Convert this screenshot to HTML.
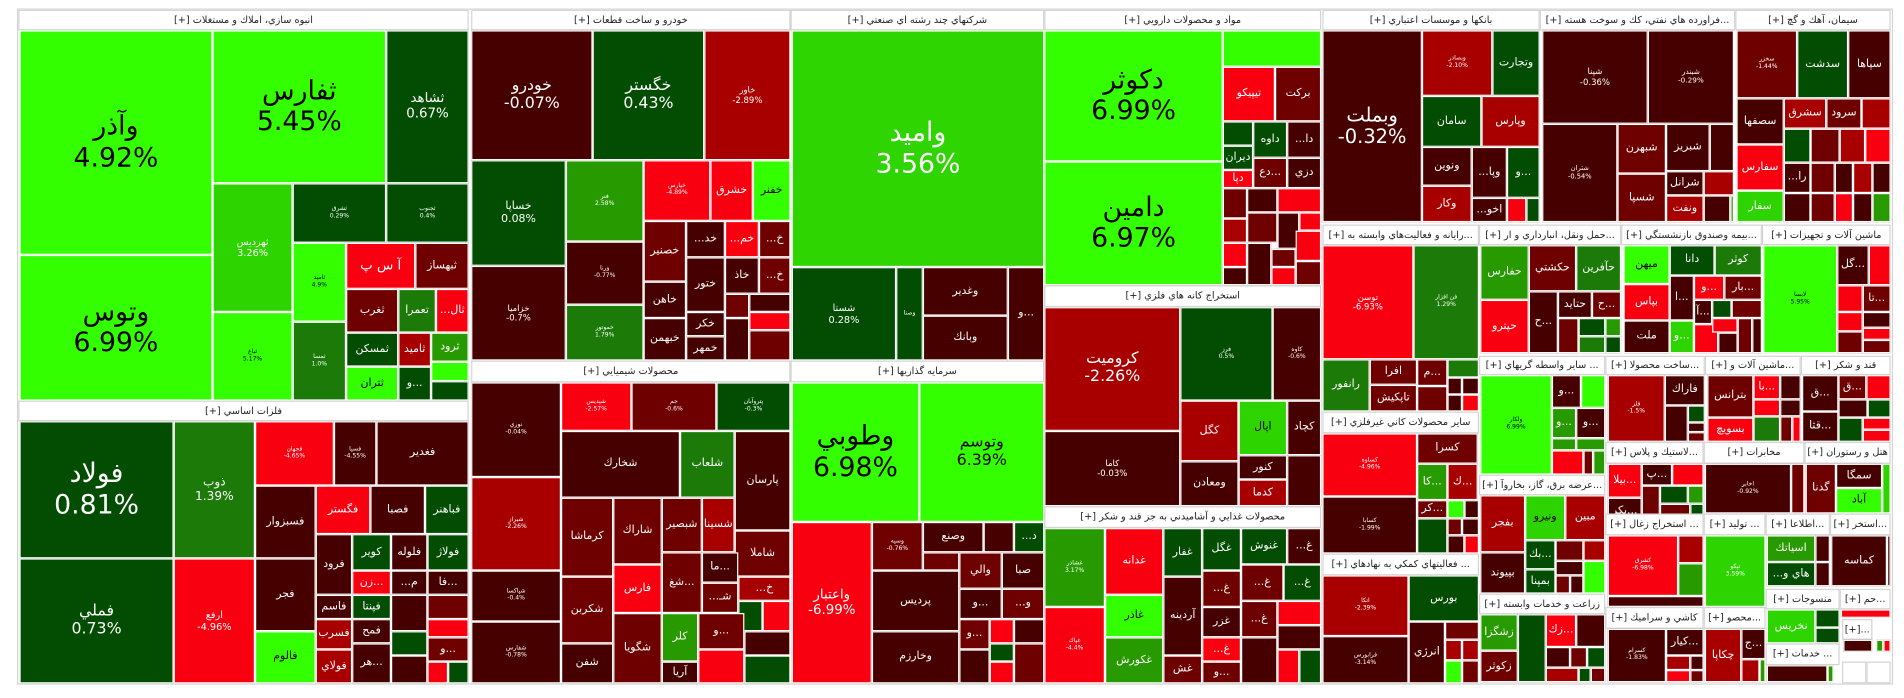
<!DOCTYPE html>
<html><head><meta charset="utf-8">
<style>
html,body{margin:0;padding:0;background:#fff;overflow:hidden}
#w{position:relative;width:1568px;height:575px;transform:scale(1.21429,1.21391);transform-origin:0 0;font-family:"DejaVu Sans","Liberation Sans",sans-serif}
.c{position:absolute;box-sizing:border-box;border:1px solid #fff;display:flex;align-items:center;justify-content:center;text-align:center;color:#fff;overflow:hidden;white-space:nowrap;line-height:1.15;font-size:9px}
.h{background:#fff;color:#222;border:1px solid #d4d4d4;font-size:8px;direction:rtl}
.G{background:#33ff00;color:#000}.g2{background:#2dd400}.g3{background:#279a00}.g4{background:#1c7a08}.dg{background:#034d03}
.dm{background:#470000}.mr{background:#6e0000}.r{background:#a80000}.R{background:#f80010}
.b{font-size:22px}.m{font-size:13px}.s{font-size:5px}
</style></head><body><div id="w">
<div style="position:absolute;left:14px;top:7px;width:1545px;height:557px;border:1px solid #d4d4d4;box-sizing:border-box"></div>
<!-- A -->
<div class="c h" style="left:15px;top:8px;width:371px;height:17px">انبوه سازي، املاك و مستغلات [+]</div>
<div class="c G b" style="left:16px;top:25px;width:159px;height:185px">وآذر<br>4.92%</div>
<div class="c G b" style="left:16px;top:210px;width:159px;height:120px">وتوس<br>6.99%</div>
<div class="c G b" style="left:175px;top:25px;width:143px;height:126px">ثفارس<br>5.45%</div>
<div class="c dg" style="left:318px;top:25px;width:68px;height:126px;font-size:11px">ثشاهد<br>0.67%</div>
<div class="c g2" style="left:175px;top:151px;width:66px;height:106px;font-size:8px">ثهرديس<br>3.26%</div>
<div class="c G s" style="left:175px;top:257px;width:66px;height:73px">ثباغ<br>5.17%</div>
<div class="c dg s" style="left:241px;top:151px;width:77px;height:49px">ثشرق<br>0.29%</div>
<div class="c dg s" style="left:318px;top:151px;width:68px;height:49px">ثجنوب<br>0.4%</div>
<div class="c G s" style="left:241px;top:200px;width:44px;height:65px">ثامید<br>4.9%</div>
<div class="c g4 s" style="left:241px;top:265px;width:44px;height:65px">ثمسا<br>1.0%</div>
<div class="c R" style="left:285px;top:200px;width:57px;height:38px;font-size:11px">آ س پ</div>
<div class="c mr" style="left:342px;top:200px;width:44px;height:38px">ثبهساز</div>
<div class="c mr" style="left:285px;top:238px;width:43px;height:36px">ثغرب</div>
<div class="c g4" style="left:328px;top:238px;width:31px;height:36px">تعمرا</div>
<div class="c R" style="left:359px;top:238px;width:27px;height:36px">...ثال</div>
<div class="c dg" style="left:285px;top:274px;width:43px;height:28px">ثمسكن</div>
<div class="c r" style="left:328px;top:274px;width:27px;height:28px">ثامید</div>
<div class="c g3" style="left:355px;top:274px;width:31px;height:24px">ثرود</div>
<div class="c G" style="left:355px;top:298px;width:31px;height:16px"></div>
<div class="c G" style="left:285px;top:302px;width:43px;height:28px">ثتران</div>
<div class="c dg" style="left:328px;top:302px;width:27px;height:28px">و...</div>
<div class="c dg" style="left:355px;top:314px;width:31px;height:16px"></div>
<!-- B -->
<div class="c h" style="left:15px;top:330px;width:371px;height:17px">فلزات اساسي [+]</div>
<div class="c dg b" style="left:16px;top:347px;width:127px;height:113px">فولاد<br>0.81%</div>
<div class="c dg m" style="left:16px;top:460px;width:127px;height:103px">فملي<br>0.73%</div>
<div class="c g4" style="left:143px;top:347px;width:67px;height:113px;font-size:10px">ذوب<br>1.39%</div>
<div class="c R" style="left:143px;top:460px;width:67px;height:103px;font-size:8px">ارفع<br>-4.96%</div>
<div class="c R s" style="left:210px;top:347px;width:65px;height:53px">فجهان<br>-4.65%</div>
<div class="c dm s" style="left:275px;top:347px;width:35px;height:53px">فسپا<br>-4.55%</div>
<div class="c dm" style="left:310px;top:347px;width:76px;height:53px">فغدير</div>
<div class="c dm" style="left:210px;top:400px;width:50px;height:60px">فسبزوار</div>
<div class="c R" style="left:260px;top:400px;width:45px;height:40px">فگستر</div>
<div class="c dm" style="left:305px;top:400px;width:45px;height:40px">فصبا</div>
<div class="c dg" style="left:350px;top:400px;width:36px;height:40px">فباهنر</div>
<div class="c dm" style="left:260px;top:440px;width:30px;height:50px">فرود</div>
<div class="c dg" style="left:290px;top:440px;width:32px;height:30px">كوير</div>
<div class="c dm" style="left:322px;top:440px;width:30px;height:30px">فلوله</div>
<div class="c dg" style="left:352px;top:440px;width:34px;height:30px">فولاژ</div>
<div class="c dm" style="left:210px;top:460px;width:50px;height:60px">فجر</div>
<div class="c R" style="left:290px;top:470px;width:32px;height:20px">زن...</div>
<div class="c dm" style="left:322px;top:470px;width:30px;height:20px">...م</div>
<div class="c dm" style="left:352px;top:470px;width:34px;height:20px">فا...</div>
<div class="c G" style="left:210px;top:520px;width:50px;height:43px">فالوم</div>
<div class="c dm" style="left:260px;top:490px;width:30px;height:20px">فاسم</div>
<div class="c dg" style="left:290px;top:490px;width:32px;height:20px">فپنتا</div>
<div class="c r" style="left:260px;top:510px;width:30px;height:25px">فسرب</div>
<div class="c dm" style="left:290px;top:510px;width:32px;height:20px">فمح</div>
<div class="c r" style="left:260px;top:535px;width:30px;height:28px">فولاي</div>
<div class="c dm" style="left:290px;top:530px;width:32px;height:33px">هر...</div>
<div class="c dm" style="left:322px;top:490px;width:30px;height:30px"></div>
<div class="c mr" style="left:352px;top:490px;width:34px;height:20px"></div>
<div class="c R" style="left:352px;top:510px;width:34px;height:15px"></div>
<div class="c dg" style="left:322px;top:520px;width:30px;height:20px"></div>
<div class="c mr" style="left:352px;top:525px;width:34px;height:20px">و...</div>
<div class="c dm" style="left:322px;top:540px;width:30px;height:23px"></div>
<div class="c R" style="left:352px;top:545px;width:17px;height:18px"></div>
<div class="c dg" style="left:369px;top:545px;width:17px;height:18px"></div>
<!-- C -->
<div class="c h" style="left:388px;top:8px;width:263px;height:17px">خودرو و ساخت قطعات [+]</div>
<div class="c dm m" style="left:388px;top:25px;width:100px;height:107px">خودرو<br>-0.07%</div>
<div class="c dg m" style="left:488px;top:25px;width:92px;height:107px">خگستر<br>0.43%</div>
<div class="c r" style="left:580px;top:25px;width:71px;height:107px;font-size:7px">خاور<br>-2.89%</div>
<div class="c dg" style="left:388px;top:132px;width:78px;height:87px">خساپا<br>0.08%</div>
<div class="c dm" style="left:388px;top:219px;width:78px;height:78px;font-size:7px">خزامیا<br>-0.7%</div>
<div class="c g3 s" style="left:466px;top:132px;width:64px;height:67px">فنر<br>2.58%</div>
<div class="c dm s" style="left:466px;top:199px;width:64px;height:52px">ورنا<br>-0.77%</div>
<div class="c g4 s" style="left:466px;top:251px;width:64px;height:46px">خموتور<br>1.79%</div>
<div class="c R s" style="left:530px;top:132px;width:55px;height:50px">خپارس<br>-4.89%</div>
<div class="c R" style="left:585px;top:132px;width:35px;height:50px">خشرق</div>
<div class="c G" style="left:620px;top:132px;width:31px;height:50px">خفنر</div>
<div class="c mr" style="left:530px;top:182px;width:35px;height:50px">خصنير</div>
<div class="c dm" style="left:530px;top:232px;width:35px;height:30px">خاهن</div>
<div class="c dm" style="left:530px;top:262px;width:35px;height:35px">خبهمن</div>
<div class="c dm" style="left:565px;top:182px;width:32px;height:30px">...خد</div>
<div class="c R" style="left:597px;top:182px;width:28px;height:30px">...خم</div>
<div class="c mr" style="left:625px;top:182px;width:26px;height:30px">...خ</div>
<div class="c dm" style="left:565px;top:212px;width:32px;height:45px">ختور</div>
<div class="c dm" style="left:597px;top:212px;width:28px;height:30px">خاذ</div>
<div class="c mr" style="left:625px;top:212px;width:26px;height:30px">...خ</div>
<div class="c dm" style="left:565px;top:257px;width:32px;height:20px">خكر</div>
<div class="c dm" style="left:565px;top:277px;width:32px;height:20px">خمهر</div>
<div class="c mr" style="left:597px;top:242px;width:20px;height:20px"></div>
<div class="c dm" style="left:617px;top:242px;width:34px;height:15px"></div>
<div class="c R" style="left:617px;top:257px;width:34px;height:15px"></div>
<div class="c dm" style="left:597px;top:262px;width:20px;height:35px"></div>
<div class="c mr" style="left:617px;top:272px;width:34px;height:25px"></div>
<!-- D -->
<div class="c h" style="left:388px;top:297px;width:263px;height:18px">محصولات شيميايي [+]</div>
<div class="c dm s" style="left:388px;top:315px;width:74px;height:78px">نوري<br>-0.04%</div>
<div class="c R s" style="left:462px;top:315px;width:58px;height:40px">شپديس<br>-2.57%</div>
<div class="c mr s" style="left:520px;top:315px;width:70px;height:40px">جم<br>-0.6%</div>
<div class="c dg s" style="left:590px;top:315px;width:61px;height:40px">پتروآبان<br>-0.3%</div>
<div class="c r s" style="left:388px;top:393px;width:74px;height:77px">شيراز<br>-2.26%</div>
<div class="c dm s" style="left:388px;top:470px;width:74px;height:42px">شپاكسا<br>-0.4%</div>
<div class="c dm s" style="left:388px;top:512px;width:74px;height:51px">شفارس<br>-0.78%</div>
<div class="c dm" style="left:462px;top:355px;width:98px;height:55px">شخارك</div>
<div class="c g4" style="left:560px;top:355px;width:45px;height:55px">شلعاب</div>
<div class="c dm" style="left:605px;top:355px;width:46px;height:82px">پارسان</div>
<div class="c mr" style="left:462px;top:410px;width:43px;height:65px">كرماشا</div>
<div class="c mr" style="left:505px;top:410px;width:40px;height:55px">شاراك</div>
<div class="c mr" style="left:545px;top:410px;width:33px;height:45px">شبصير</div>
<div class="c r" style="left:578px;top:410px;width:27px;height:45px">شسينا</div>
<div class="c mr" style="left:605px;top:437px;width:46px;height:38px">شاملا</div>
<div class="c mr" style="left:462px;top:475px;width:43px;height:55px">شكربن</div>
<div class="c R" style="left:505px;top:465px;width:40px;height:40px">فارس</div>
<div class="c mr" style="left:505px;top:505px;width:40px;height:58px">شگويا</div>
<div class="c dm" style="left:462px;top:530px;width:43px;height:33px">شفن</div>
<div class="c mr" style="left:545px;top:455px;width:33px;height:50px">شغ...</div>
<div class="c g3" style="left:545px;top:505px;width:30px;height:40px">كلر</div>
<div class="c dm" style="left:545px;top:545px;width:30px;height:18px">آريا</div>
<div class="c dm" style="left:578px;top:455px;width:30px;height:25px">ما...</div>
<div class="c r" style="left:608px;top:475px;width:43px;height:20px">...خ</div>
<div class="c mr" style="left:578px;top:480px;width:30px;height:25px">...شـ</div>
<div class="c dg" style="left:608px;top:495px;width:20px;height:25px"></div>
<div class="c R" style="left:628px;top:495px;width:23px;height:25px"></div>
<div class="c mr" style="left:575px;top:505px;width:38px;height:30px">و...</div>
<div class="c dm" style="left:613px;top:520px;width:38px;height:20px"></div>
<div class="c R" style="left:575px;top:535px;width:38px;height:28px"></div>
<div class="c dg" style="left:613px;top:540px;width:38px;height:23px"></div>
<!-- E -->
<div class="c h" style="left:651px;top:8px;width:209px;height:17px">شركتهاي چند رشته اي صنعتي [+]</div>
<div class="c b" style="left:652px;top:25px;width:208px;height:195px;background:#2ed500">وامید<br>3.56%</div>
<div class="c dg" style="left:652px;top:220px;width:86px;height:77px;font-size:8px">شستا<br>0.28%</div>
<div class="c dg s" style="left:738px;top:220px;width:22px;height:77px">وصنا</div>
<div class="c dm" style="left:760px;top:220px;width:70px;height:40px">وغدير</div>
<div class="c dm" style="left:760px;top:260px;width:70px;height:37px">وبانك</div>
<div class="c dm" style="left:830px;top:220px;width:30px;height:77px">و...</div>
<!-- F -->
<div class="c h" style="left:651px;top:297px;width:209px;height:18px">سرمايه گذاريها [+]</div>
<div class="c G b" style="left:652px;top:315px;width:105px;height:115px">وطوبي<br>6.98%</div>
<div class="c G m" style="left:757px;top:315px;width:103px;height:115px">وتوسم<br>6.39%</div>
<div class="c R" style="left:652px;top:430px;width:66px;height:133px;font-size:11px">واعتبار<br>-6.99%</div>
<div class="c mr s" style="left:718px;top:430px;width:42px;height:40px">وسپه<br>-0.76%</div>
<div class="c dm" style="left:760px;top:430px;width:50px;height:25px">وصنع</div>
<div class="c dm" style="left:810px;top:430px;width:25px;height:25px"></div>
<div class="c dg" style="left:835px;top:430px;width:25px;height:25px">...د</div>
<div class="c dm" style="left:718px;top:470px;width:72px;height:50px">پرديس</div>
<div class="c dm" style="left:718px;top:520px;width:72px;height:43px">وخارزم</div>
<div class="c mr" style="left:760px;top:455px;width:30px;height:15px"></div>
<div class="c mr" style="left:790px;top:455px;width:35px;height:30px">والي</div>
<div class="c dm" style="left:825px;top:455px;width:35px;height:30px">صبا</div>
<div class="c dm" style="left:790px;top:485px;width:35px;height:25px">و...</div>
<div class="c mr" style="left:825px;top:485px;width:35px;height:25px">...و</div>
<div class="c mr" style="left:790px;top:510px;width:25px;height:25px">و...</div>
<div class="c R" style="left:815px;top:510px;width:20px;height:20px"></div>
<div class="c dm" style="left:835px;top:510px;width:25px;height:20px"></div>
<div class="c dg" style="left:815px;top:530px;width:20px;height:15px"></div>
<div class="c mr" style="left:835px;top:530px;width:25px;height:33px"></div>
<div class="c dm" style="left:790px;top:535px;width:25px;height:28px"></div>
<div class="c R" style="left:815px;top:545px;width:20px;height:18px"></div>
<!-- G -->
<div class="c h" style="left:860px;top:8px;width:228px;height:17px">مواد و محصولات دارويي [+]</div>
<div class="c G b" style="left:860px;top:25px;width:147px;height:108px">دكوثر<br>6.99%</div>
<div class="c G b" style="left:860px;top:133px;width:147px;height:102px">دامین<br>6.97%</div>
<div class="c G" style="left:1007px;top:25px;width:81px;height:30px"></div>
<div class="c R" style="left:1007px;top:55px;width:43px;height:45px">تيپيكو</div>
<div class="c mr" style="left:1050px;top:55px;width:38px;height:45px">بركت</div>
<div class="c dg" style="left:1007px;top:100px;width:25px;height:20px"></div>
<div class="c dg" style="left:1032px;top:100px;width:28px;height:30px">داوه</div>
<div class="c dm" style="left:1060px;top:100px;width:28px;height:30px">...دا</div>
<div class="c dg" style="left:1007px;top:120px;width:25px;height:20px">ديران</div>
<div class="c R" style="left:1007px;top:140px;width:25px;height:15px">دپا</div>
<div class="c mr" style="left:1032px;top:130px;width:28px;height:25px">دع...</div>
<div class="c dm" style="left:1060px;top:130px;width:28px;height:25px">دزي</div>
<div class="c mr" style="left:1007px;top:155px;width:20px;height:25px"></div>
<div class="c dm" style="left:1027px;top:155px;width:25px;height:20px"></div>
<div class="c R" style="left:1052px;top:155px;width:36px;height:20px"></div>
<div class="c r" style="left:1007px;top:180px;width:20px;height:20px"></div>
<div class="c mr" style="left:1027px;top:175px;width:25px;height:25px"></div>
<div class="c dm" style="left:1052px;top:175px;width:18px;height:30px"></div>
<div class="c R" style="left:1070px;top:175px;width:18px;height:15px"></div>
<div class="c R" style="left:1007px;top:200px;width:20px;height:20px"></div>
<div class="c dm" style="left:1027px;top:200px;width:20px;height:35px"></div>
<div class="c mr" style="left:1047px;top:205px;width:20px;height:15px"></div>
<div class="c R" style="left:1067px;top:190px;width:21px;height:25px"></div>
<div class="c R" style="left:1047px;top:220px;width:20px;height:15px"></div>
<div class="c dm" style="left:1007px;top:220px;width:20px;height:15px"></div>
<div class="c mr" style="left:1067px;top:215px;width:21px;height:20px"></div>
<!-- H -->
<div class="c h" style="left:860px;top:235px;width:228px;height:18px">استخراج كانه هاي فلزي [+]</div>
<div class="c r m" style="left:860px;top:253px;width:112px;height:102px">كروميت<br>-2.26%</div>
<div class="c dm" style="left:860px;top:355px;width:112px;height:62px;font-size:7px">كاما<br>-0.03%</div>
<div class="c dg s" style="left:972px;top:253px;width:76px;height:77px">فرز<br>0.5%</div>
<div class="c dm s" style="left:1048px;top:253px;width:40px;height:77px">كاوه<br>-0.6%</div>
<div class="c r" style="left:972px;top:330px;width:48px;height:50px">كگل</div>
<div class="c g2" style="left:1020px;top:330px;width:40px;height:45px;color:#000">اپال</div>
<div class="c dm" style="left:1060px;top:330px;width:28px;height:45px">كچاد</div>
<div class="c dm" style="left:972px;top:380px;width:48px;height:37px">ومعادن</div>
<div class="c dm" style="left:1020px;top:375px;width:40px;height:20px">كنور</div>
<div class="c r" style="left:1020px;top:395px;width:40px;height:22px">كدما</div>
<div class="c dm" style="left:1060px;top:375px;width:28px;height:42px"></div>
<!-- I -->
<div class="c h" style="left:860px;top:417px;width:228px;height:18px">محصولات غذايي و آشاميدني به جز قند و شكر [+]</div>
<div class="c g3 s" style="left:860px;top:435px;width:50px;height:65px">غشاذر<br>3.17%</div>
<div class="c R s" style="left:860px;top:500px;width:50px;height:63px">غپاك<br>-4.4%</div>
<div class="c R" style="left:910px;top:435px;width:48px;height:55px">غدانه</div>
<div class="c G" style="left:910px;top:490px;width:48px;height:35px">غاذر</div>
<div class="c g3" style="left:910px;top:525px;width:48px;height:38px">غكورش</div>
<div class="c dg" style="left:958px;top:435px;width:32px;height:40px">غفار</div>
<div class="c dm" style="left:958px;top:475px;width:32px;height:65px">آردينه</div>
<div class="c mr" style="left:958px;top:540px;width:32px;height:23px">غش</div>
<div class="c dg" style="left:990px;top:435px;width:32px;height:35px">غگل</div>
<div class="c dg" style="left:1022px;top:435px;width:38px;height:30px">غنوش</div>
<div class="c dm" style="left:1060px;top:435px;width:28px;height:30px">...غ</div>
<div class="c mr" style="left:990px;top:470px;width:32px;height:30px">...غ</div>
<div class="c mr" style="left:1022px;top:465px;width:35px;height:30px">...غ</div>
<div class="c dg" style="left:1057px;top:465px;width:31px;height:30px">...غ</div>
<div class="c dm" style="left:990px;top:500px;width:32px;height:25px">غزر</div>
<div class="c mr" style="left:1022px;top:495px;width:30px;height:30px">...غ</div>
<div class="c R" style="left:1052px;top:495px;width:36px;height:20px"></div>
<div class="c dm" style="left:1052px;top:515px;width:36px;height:20px"></div>
<div class="c R" style="left:990px;top:525px;width:32px;height:20px">...غ</div>
<div class="c mr" style="left:990px;top:545px;width:32px;height:18px">و...</div>
<div class="c dm" style="left:1022px;top:525px;width:30px;height:38px"></div>
<div class="c R" style="left:1052px;top:535px;width:18px;height:28px"></div>
<div class="c dg" style="left:1070px;top:535px;width:18px;height:28px"></div>
<!-- Banks -->
<div class="c h" style="left:1089px;top:8px;width:179px;height:17px">بانكها و موسسات اعتباري [+]</div>
<div class="c dm" style="left:1089px;top:25px;width:82px;height:158px;font-size:16px">وبملت<br>-0.32%</div>
<div class="c r s" style="left:1171px;top:25px;width:58px;height:54px">وبصادر<br>-2.10%</div>
<div class="c dg" style="left:1229px;top:25px;width:39px;height:54px">وتجارت</div>
<div class="c dg" style="left:1171px;top:79px;width:49px;height:42px">سامان</div>
<div class="c r" style="left:1220px;top:79px;width:48px;height:42px">وپارس</div>
<div class="c dm" style="left:1171px;top:121px;width:41px;height:32px">ونوين</div>
<div class="c dm" style="left:1212px;top:121px;width:29px;height:42px">...وپا</div>
<div class="c dg" style="left:1241px;top:121px;width:27px;height:42px">و...</div>
<div class="c r" style="left:1171px;top:153px;width:41px;height:30px">وكار</div>
<div class="c dm" style="left:1212px;top:163px;width:29px;height:20px">...اخو</div>
<div class="c R" style="left:1241px;top:163px;width:16px;height:20px"></div>
<div class="c dg" style="left:1257px;top:163px;width:11px;height:20px"></div>
<!-- Refinery -->
<div class="c h" style="left:1268px;top:8px;width:161px;height:17px">...فراورده هاي نفتي، كك و سوخت هسته [+]</div>
<div class="c dm" style="left:1270px;top:25px;width:87px;height:77px;font-size:7px">شپنا<br>-0.36%</div>
<div class="c dm" style="left:1357px;top:25px;width:71px;height:77px;font-size:6px">شبندر<br>-0.29%</div>
<div class="c dm" style="left:1270px;top:102px;width:62px;height:81px;font-size:5.5px">شتران<br>-0.54%</div>
<div class="c mr" style="left:1332px;top:102px;width:40px;height:41px">شبهرن</div>
<div class="c dm" style="left:1372px;top:102px;width:36px;height:39px">شبريز</div>
<div class="c dm" style="left:1408px;top:102px;width:20px;height:39px"></div>
<div class="c mr" style="left:1332px;top:143px;width:40px;height:40px">شسپا</div>
<div class="c dm" style="left:1372px;top:141px;width:31px;height:20px">شرانل</div>
<div class="c r" style="left:1372px;top:161px;width:31px;height:22px">ونفت</div>
<div class="c r" style="left:1403px;top:141px;width:25px;height:20px"></div>
<div class="c dm" style="left:1403px;top:161px;width:22px;height:22px"></div>
<div class="c g3" style="left:1425px;top:161px;width:3px;height:22px"></div>
<!-- Cement -->
<div class="c h" style="left:1429px;top:8px;width:128px;height:17px">سيمان، آهك و گچ [+]</div>
<div class="c mr s" style="left:1430px;top:25px;width:50px;height:56px">سخزر<br>-1.44%</div>
<div class="c dg" style="left:1480px;top:25px;width:42px;height:56px">سدشت</div>
<div class="c dm" style="left:1522px;top:25px;width:35px;height:56px">سپاها</div>
<div class="c dm" style="left:1430px;top:81px;width:39px;height:38px">سصفها</div>
<div class="c r" style="left:1469px;top:81px;width:35px;height:25px">سشرق</div>
<div class="c mr" style="left:1504px;top:81px;width:29px;height:25px">سرود</div>
<div class="c r" style="left:1533px;top:81px;width:24px;height:25px"></div>
<div class="c R" style="left:1430px;top:119px;width:39px;height:38px">سفارس</div>
<div class="c g2" style="left:1430px;top:157px;width:39px;height:26px">سفار</div>
<div class="c dg" style="left:1469px;top:106px;width:22px;height:28px"></div>
<div class="c mr" style="left:1491px;top:106px;width:24px;height:28px"></div>
<div class="c r" style="left:1515px;top:106px;width:21px;height:28px"></div>
<div class="c R" style="left:1536px;top:106px;width:21px;height:28px"></div>
<div class="c dm" style="left:1469px;top:134px;width:22px;height:25px">...را</div>
<div class="c mr" style="left:1491px;top:134px;width:20px;height:25px"></div>
<div class="c dm" style="left:1511px;top:134px;width:15px;height:25px"></div>
<div class="c r" style="left:1526px;top:134px;width:16px;height:25px"></div>
<div class="c dm" style="left:1542px;top:134px;width:15px;height:25px"></div>
<div class="c dm" style="left:1469px;top:159px;width:22px;height:24px"></div>
<div class="c mr" style="left:1491px;top:159px;width:20px;height:24px"></div>
<div class="c R" style="left:1511px;top:159px;width:15px;height:24px"></div>
<div class="c dm" style="left:1526px;top:159px;width:16px;height:24px"></div>
<div class="c g3" style="left:1542px;top:159px;width:15px;height:24px"></div>
<!-- Computer -->
<div class="c h" style="left:1089px;top:185px;width:129px;height:17px">...رايانه و فعاليت‌هاي وابسته به [+]</div>
<div class="c R" style="left:1089px;top:202px;width:75px;height:94px;font-size:7px">توسن<br>-6.93%</div>
<div class="c g4 s" style="left:1164px;top:202px;width:54px;height:94px">فن افزار<br>1.29%</div>
<div class="c g4" style="left:1089px;top:296px;width:39px;height:43px">رانفور</div>
<div class="c mr" style="left:1128px;top:296px;width:39px;height:21px">افرا</div>
<div class="c mr" style="left:1128px;top:317px;width:39px;height:22px">تاپكيش</div>
<div class="c mr" style="left:1167px;top:296px;width:25px;height:22px">م...</div>
<div class="c g4" style="left:1192px;top:296px;width:26px;height:15px"></div>
<div class="c dm" style="left:1192px;top:311px;width:12px;height:14px"></div>
<div class="c dm" style="left:1204px;top:311px;width:14px;height:14px"></div>
<div class="c mr" style="left:1167px;top:318px;width:25px;height:21px"></div>
<div class="c dm" style="left:1192px;top:325px;width:12px;height:14px"></div>
<div class="c R" style="left:1204px;top:325px;width:14px;height:14px"></div>
<!-- Non-metal -->
<div class="c h" style="left:1089px;top:339px;width:129px;height:18px">ساير محصولات كاني غيرفلزي [+]</div>
<div class="c R s" style="left:1089px;top:357px;width:78px;height:52px">كساوه<br>-4.96%</div>
<div class="c mr" style="left:1167px;top:357px;width:50px;height:25px">كسرا</div>
<div class="c g3" style="left:1167px;top:382px;width:25px;height:30px">كا...</div>
<div class="c r" style="left:1192px;top:382px;width:25px;height:30px">ك...</div>
<div class="c dm s" style="left:1089px;top:409px;width:78px;height:47px">كسابا<br>-1.99%</div>
<div class="c mr" style="left:1167px;top:412px;width:25px;height:15px">كر...</div>
<div class="c dg" style="left:1167px;top:427px;width:25px;height:29px"></div>
<div class="c G" style="left:1192px;top:412px;width:14px;height:15px"></div>
<div class="c dm" style="left:1206px;top:412px;width:12px;height:15px"></div>
<div class="c mr" style="left:1192px;top:427px;width:12px;height:14px"></div>
<div class="c dm" style="left:1204px;top:427px;width:14px;height:14px"></div>
<div class="c dm" style="left:1192px;top:441px;width:14px;height:15px"></div>
<div class="c R" style="left:1206px;top:441px;width:12px;height:15px"></div>
<!-- Support -->
<div class="c h" style="left:1089px;top:456px;width:129px;height:18px">... فعاليتهاي كمكي به نهادهاي [+]</div>
<div class="c r s" style="left:1089px;top:474px;width:71px;height:50px">اتكا<br>-2.39%</div>
<div class="c dg" style="left:1160px;top:474px;width:58px;height:38px">بورس</div>
<div class="c dm s" style="left:1089px;top:524px;width:71px;height:39px">فرابورس<br>-3.14%</div>
<div class="c dm" style="left:1160px;top:512px;width:30px;height:51px">انرژي</div>
<div class="c mr" style="left:1190px;top:512px;width:28px;height:15px"></div>
<div class="c r" style="left:1190px;top:527px;width:14px;height:17px"></div>
<div class="c r" style="left:1204px;top:527px;width:14px;height:17px"></div>
<div class="c G" style="left:1190px;top:544px;width:14px;height:19px"></div>
<div class="c mr" style="left:1204px;top:544px;width:14px;height:19px"></div>
<!-- Transport -->
<div class="c h" style="left:1218px;top:185px;width:117px;height:17px">...حمل ونقل، انبارداري و ار [+]</div>
<div class="c g3" style="left:1219px;top:202px;width:40px;height:45px">حفارس</div>
<div class="c mr" style="left:1259px;top:202px;width:39px;height:38px">حكشتي</div>
<div class="c g4" style="left:1298px;top:202px;width:37px;height:38px">حآفرين</div>
<div class="c R" style="left:1219px;top:247px;width:40px;height:44px">حپترو</div>
<div class="c dm" style="left:1259px;top:240px;width:24px;height:51px">ح...</div>
<div class="c dm" style="left:1283px;top:240px;width:28px;height:22px">حتايد</div>
<div class="c mr" style="left:1311px;top:240px;width:24px;height:22px">ح...</div>
<div class="c mr" style="left:1283px;top:262px;width:17px;height:29px"></div>
<div class="c dg" style="left:1300px;top:262px;width:22px;height:15px"></div>
<div class="c g3" style="left:1322px;top:262px;width:13px;height:15px"></div>
<div class="c g4" style="left:1300px;top:277px;width:22px;height:14px"></div>
<div class="c dg" style="left:1322px;top:277px;width:13px;height:14px"></div>
<!-- Insurance -->
<div class="c h" style="left:1335px;top:185px;width:116px;height:17px">...بيمه وصندوق بازنشستگي [+]</div>
<div class="c G" style="left:1337px;top:202px;width:38px;height:32px">ميهن</div>
<div class="c dg" style="left:1375px;top:202px;width:37px;height:25px">دانا</div>
<div class="c g4" style="left:1412px;top:202px;width:39px;height:25px">كوثر</div>
<div class="c R" style="left:1337px;top:234px;width:38px;height:30px">بپاس</div>
<div class="c dm" style="left:1337px;top:264px;width:38px;height:27px">ملت</div>
<div class="c dm" style="left:1375px;top:227px;width:20px;height:37px">ا...</div>
<div class="c R" style="left:1395px;top:227px;width:25px;height:20px">و...</div>
<div class="c mr" style="left:1420px;top:227px;width:31px;height:20px">بار...</div>
<div class="c dm" style="left:1395px;top:247px;width:15px;height:20px">آ...</div>
<div class="c dg" style="left:1410px;top:247px;width:16px;height:15px"></div>
<div class="c mr" style="left:1426px;top:247px;width:25px;height:15px"></div>
<div class="c g2" style="left:1375px;top:264px;width:20px;height:27px">و...</div>
<div class="c R" style="left:1395px;top:267px;width:20px;height:24px"></div>
<div class="c R" style="left:1410px;top:262px;width:21px;height:12px"></div>
<div class="c dm" style="left:1415px;top:274px;width:16px;height:17px"></div>
<div class="c mr" style="left:1431px;top:262px;width:12px;height:29px"></div>
<div class="c dm" style="left:1443px;top:262px;width:8px;height:29px"></div>
<!-- Machinery -->
<div class="c h" style="left:1451px;top:185px;width:106px;height:17px">ماشين آلات و تجهيزات [+]</div>
<div class="c G s" style="left:1452px;top:202px;width:61px;height:89px">لابسا<br>5.95%</div>
<div class="c dm" style="left:1513px;top:202px;width:26px;height:33px">گل...</div>
<div class="c R" style="left:1539px;top:202px;width:18px;height:33px"></div>
<div class="c R" style="left:1513px;top:235px;width:21px;height:22px"></div>
<div class="c mr" style="left:1534px;top:235px;width:23px;height:22px">تا...</div>
<div class="c R" style="left:1513px;top:257px;width:21px;height:16px"></div>
<div class="c dm" style="left:1534px;top:257px;width:23px;height:13px"></div>
<div class="c mr" style="left:1513px;top:273px;width:21px;height:18px"></div>
<div class="c R" style="left:1534px;top:270px;width:23px;height:10px"></div>
<div class="c mr" style="left:1534px;top:280px;width:23px;height:11px"></div>
<!-- Other fin -->
<div class="c h" style="left:1218px;top:293px;width:104px;height:16px">... ساير واسطه گريهاي [+]</div>
<div class="c G s" style="left:1219px;top:309px;width:59px;height:82px">ولكار<br>6.99%</div>
<div class="c dm" style="left:1278px;top:309px;width:24px;height:27px">و...</div>
<div class="c G" style="left:1302px;top:309px;width:20px;height:27px"></div>
<div class="c g3" style="left:1278px;top:336px;width:20px;height:25px">و...</div>
<div class="c dm" style="left:1298px;top:336px;width:24px;height:25px">و...</div>
<div class="c g3" style="left:1278px;top:361px;width:20px;height:10px"></div>
<div class="c g3" style="left:1298px;top:361px;width:24px;height:10px"></div>
<div class="c R" style="left:1278px;top:371px;width:26px;height:20px"></div>
<div class="c mr" style="left:1304px;top:371px;width:8px;height:20px"></div>
<div class="c g3" style="left:1312px;top:371px;width:10px;height:20px"></div>
<!-- Electricity -->
<div class="c h" style="left:1218px;top:391px;width:104px;height:17px">...عرضه برق، گاز، بخاروآ [+]</div>
<div class="c r" style="left:1219px;top:408px;width:37px;height:47px">بفجر</div>
<div class="c g2" style="left:1256px;top:408px;width:33px;height:37px;color:#000">ونيرو</div>
<div class="c r" style="left:1289px;top:408px;width:33px;height:37px">مبين</div>
<div class="c dm" style="left:1219px;top:455px;width:37px;height:34px">بپيوند</div>
<div class="c dg" style="left:1256px;top:445px;width:25px;height:24px">بك...</div>
<div class="c dg" style="left:1256px;top:469px;width:25px;height:20px">بمپنا</div>
<div class="c mr" style="left:1281px;top:445px;width:23px;height:17px"></div>
<div class="c r" style="left:1304px;top:445px;width:18px;height:17px"></div>
<div class="c dm" style="left:1281px;top:462px;width:23px;height:12px"></div>
<div class="c mr" style="left:1281px;top:474px;width:12px;height:15px"></div>
<div class="c dm" style="left:1293px;top:474px;width:11px;height:15px"></div>
<div class="c G" style="left:1304px;top:462px;width:18px;height:27px"></div>
<!-- Agri -->
<div class="c h" style="left:1218px;top:489px;width:104px;height:17px">زراعت و خدمات وابسته [+]</div>
<div class="c g3" style="left:1219px;top:506px;width:31px;height:30px">زشگزا</div>
<div class="c mr" style="left:1219px;top:536px;width:31px;height:26px">زكوثر</div>
<div class="c dg" style="left:1250px;top:506px;width:23px;height:56px"></div>
<div class="c R" style="left:1273px;top:506px;width:25px;height:27px">زك...</div>
<div class="c dm" style="left:1298px;top:506px;width:24px;height:27px"></div>
<div class="c dm" style="left:1273px;top:533px;width:20px;height:17px"></div>
<div class="c mr" style="left:1293px;top:533px;width:14px;height:17px"></div>
<div class="c dg" style="left:1307px;top:533px;width:15px;height:17px"></div>
<div class="c r" style="left:1273px;top:550px;width:27px;height:12px"></div>
<div class="c dg" style="left:1300px;top:550px;width:10px;height:12px"></div>
<div class="c mr" style="left:1310px;top:550px;width:12px;height:12px"></div>
<!-- Product -->
<div class="c h" style="left:1322px;top:293px;width:82px;height:16px">...ساخت محصولا [+]</div>
<div class="c r s" style="left:1324px;top:309px;width:47px;height:55px">فلر<br>-1.5%</div>
<div class="c dm" style="left:1371px;top:309px;width:33px;height:25px">فاراك</div>
<div class="c dm" style="left:1371px;top:334px;width:19px;height:30px"></div>
<div class="c dg" style="left:1390px;top:334px;width:14px;height:14px"></div>
<div class="c dm" style="left:1390px;top:348px;width:14px;height:8px"></div>
<div class="c mr" style="left:1390px;top:356px;width:14px;height:8px"></div>
<div class="c h" style="left:1404px;top:293px;width:79px;height:16px">...ماشين آلات و [+]</div>
<div class="c mr" style="left:1406px;top:309px;width:38px;height:35px">بترانس</div>
<div class="c R" style="left:1444px;top:309px;width:22px;height:20px">با...</div>
<div class="c dm" style="left:1466px;top:309px;width:17px;height:20px"></div>
<div class="c R" style="left:1444px;top:329px;width:22px;height:14px"></div>
<div class="c dm" style="left:1466px;top:329px;width:17px;height:14px"></div>
<div class="c R" style="left:1406px;top:344px;width:38px;height:20px">بسويچ</div>
<div class="c g4" style="left:1444px;top:343px;width:22px;height:21px"></div>
<div class="c mr" style="left:1466px;top:343px;width:10px;height:21px"></div>
<div class="c R" style="left:1476px;top:343px;width:7px;height:21px"></div>
<div class="c h" style="left:1483px;top:293px;width:74px;height:16px">قند و شكر [+]</div>
<div class="c dm" style="left:1484px;top:309px;width:30px;height:30px">ق...</div>
<div class="c dm" style="left:1484px;top:339px;width:30px;height:25px">قثا...</div>
<div class="c mr" style="left:1514px;top:309px;width:23px;height:20px">ق...</div>
<div class="c R" style="left:1537px;top:309px;width:20px;height:20px"></div>
<div class="c dm" style="left:1514px;top:329px;width:24px;height:15px"></div>
<div class="c dg" style="left:1538px;top:329px;width:19px;height:15px"></div>
<div class="c dg" style="left:1514px;top:344px;width:20px;height:20px"></div>
<div class="c R" style="left:1534px;top:344px;width:23px;height:10px"></div>
<div class="c R" style="left:1534px;top:354px;width:23px;height:10px"></div>
<!-- Rubber / telecom / hotel -->
<div class="c h" style="left:1322px;top:364px;width:81px;height:18px">...لاستيك و پلاس [+]</div>
<div class="c R" style="left:1324px;top:382px;width:28px;height:28px">بيلا...</div>
<div class="c dm" style="left:1352px;top:382px;width:25px;height:18px">پ...</div>
<div class="c R" style="left:1377px;top:382px;width:26px;height:18px"></div>
<div class="c dm" style="left:1324px;top:410px;width:28px;height:22px">پكر...</div>
<div class="c mr" style="left:1352px;top:400px;width:15px;height:32px"></div>
<div class="c dg" style="left:1367px;top:400px;width:23px;height:15px"></div>
<div class="c g3" style="left:1390px;top:400px;width:13px;height:15px"></div>
<div class="c mr" style="left:1367px;top:415px;width:25px;height:17px"></div>
<div class="c dg" style="left:1392px;top:415px;width:11px;height:17px"></div>
<div class="c h" style="left:1403px;top:364px;width:83px;height:18px">مخابرات [+]</div>
<div class="c dm s" style="left:1404px;top:382px;width:71px;height:41px">اخابر<br>-0.92%</div>
<div class="c mr" style="left:1475px;top:382px;width:11px;height:41px"></div>
<div class="c h" style="left:1486px;top:364px;width:71px;height:18px">هتل و رستوران [+]</div>
<div class="c mr" style="left:1487px;top:382px;width:25px;height:41px">گدنا</div>
<div class="c dm" style="left:1512px;top:382px;width:38px;height:20px">سمگا</div>
<div class="c G" style="left:1512px;top:402px;width:38px;height:21px">آباد</div>
<div class="c g2" style="left:1550px;top:382px;width:7px;height:41px"></div>
<!-- Coal / prod / IT / extraction -->
<div class="c h" style="left:1322px;top:423px;width:81px;height:18px">... استخراج زغال [+]</div>
<div class="c R s" style="left:1324px;top:441px;width:58px;height:50px">كشرق<br>-6.98%</div>
<div class="c r" style="left:1382px;top:441px;width:21px;height:23px"></div>
<div class="c g3" style="left:1382px;top:464px;width:21px;height:27px"></div>
<div class="c dm" style="left:1324px;top:491px;width:79px;height:9px"></div>
<div class="c h" style="left:1403px;top:423px;width:51px;height:18px">... توليد [+]</div>
<div class="c g2 s" style="left:1404px;top:441px;width:50px;height:59px">تپكو<br>3.59%</div>
<div class="c h" style="left:1454px;top:423px;width:53px;height:18px">...اطلاعا [+]</div>
<div class="c g3" style="left:1455px;top:441px;width:40px;height:22px">اسياتك</div>
<div class="c dg" style="left:1455px;top:463px;width:40px;height:20px">...هاي و</div>
<div class="c dm" style="left:1495px;top:441px;width:12px;height:22px"></div>
<div class="c dm" style="left:1495px;top:463px;width:12px;height:20px"></div>
<div class="c h" style="left:1507px;top:423px;width:50px;height:18px">...استخر [+]</div>
<div class="c dm" style="left:1508px;top:441px;width:46px;height:42px">كماسه</div>
<div class="c dm" style="left:1554px;top:441px;width:3px;height:42px"></div>
<!-- Tiles etc -->
<div class="c h" style="left:1322px;top:500px;width:81px;height:18px">كاشي و سراميك [+]</div>
<div class="c dm s" style="left:1324px;top:518px;width:48px;height:44px">كسرام<br>-1.83%</div>
<div class="c dm" style="left:1372px;top:518px;width:31px;height:22px">كيار...</div>
<div class="c r" style="left:1372px;top:540px;width:20px;height:12px"></div>
<div class="c dm" style="left:1392px;top:540px;width:11px;height:12px"></div>
<div class="c R" style="left:1372px;top:552px;width:20px;height:10px"></div>
<div class="c mr" style="left:1392px;top:552px;width:11px;height:10px"></div>
<div class="c h" style="left:1403px;top:500px;width:51px;height:18px">...محصو [+]</div>
<div class="c r" style="left:1404px;top:518px;width:30px;height:44px">چكاپا</div>
<div class="c dm" style="left:1434px;top:518px;width:20px;height:25px">ج...</div>
<div class="c r" style="left:1434px;top:543px;width:15px;height:19px"></div>
<div class="c g3" style="left:1449px;top:543px;width:5px;height:19px"></div>
<div class="c h" style="left:1454px;top:485px;width:61px;height:17px">منسوجات [+]</div>
<div class="c g2" style="left:1455px;top:502px;width:40px;height:28px">نخريس</div>
<div class="c dg" style="left:1495px;top:502px;width:20px;height:15px"></div>
<div class="c dg" style="left:1495px;top:517px;width:20px;height:13px"></div>
<div class="c h" style="left:1515px;top:485px;width:42px;height:17px">...حم [+]</div>
<div class="c R" style="left:1516px;top:502px;width:41px;height:7px"></div>
<div class="c h" style="left:1517px;top:510px;width:25px;height:17px">...[+]</div>
<div class="c dm" style="left:1518px;top:527px;width:24px;height:10px"></div>
<div class="c g3" style="left:1545px;top:527px;width:6px;height:10px"></div>
<div class="c R" style="left:1551px;top:527px;width:6px;height:10px"></div>
<div class="c h" style="left:1454px;top:530px;width:61px;height:18px">... خدمات [+]</div>
<div class="c dm" style="left:1455px;top:548px;width:50px;height:14px"></div>
<div class="c g3" style="left:1505px;top:548px;width:5px;height:14px"></div>
<div class="c h" style="left:1517px;top:545px;width:20px;height:18px"></div>
<div class="c h" style="left:1537px;top:545px;width:20px;height:18px"></div>
</div></body></html>
